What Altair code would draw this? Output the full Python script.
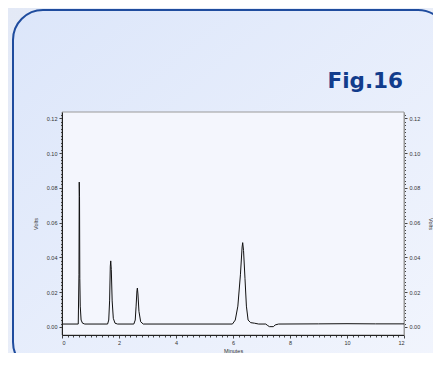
import altair as alt
import pandas as pd

# ---- data ----
times = [0.0, 0.57, 0.595, 0.605, 0.615, 0.625, 0.64, 0.67, 0.72, 0.80,
         1.60, 1.64, 1.67, 1.695, 1.71, 1.73, 1.76, 1.80, 1.86, 1.95,
         2.52, 2.57, 2.60, 2.63, 2.645, 2.665, 2.70, 2.76, 2.85,
         5.98, 6.08, 6.17, 6.26, 6.32, 6.34, 6.37, 6.42, 6.47, 6.53, 6.62, 6.75, 6.90,
         7.15, 7.22, 7.28, 7.42, 7.48, 7.60, 9.0, 10.0, 11.0, 12.0]
volts = [0.0017, 0.0017, 0.030, 0.0833, 0.075, 0.028, 0.012, 0.004, 0.0022, 0.0017,
         0.0017, 0.004, 0.015, 0.035, 0.038, 0.033, 0.015, 0.005, 0.0022, 0.0017,
         0.0017, 0.004, 0.012, 0.021, 0.0224, 0.019, 0.009, 0.003, 0.0017,
         0.0017, 0.004, 0.012, 0.030, 0.046, 0.0485, 0.044, 0.028, 0.012, 0.004, 0.0025, 0.0022, 0.0017,
         0.0017, 0.0008, 0.0002, 0.0002, 0.0012, 0.0017, 0.0018, 0.0019, 0.0018, 0.0018]

x_ticks = [round(i * 0.2, 1) for i in range(61)]
y_ticks = [round(i * 0.002, 3) for i in range(62)]

fig_title = "Fig.16"
x_title = "Minutes"
y_title = "Volts"

df = pd.DataFrame({"t": times, "v": volts})

W, H = 342, 223
PL, PT, PR, PB = 54, 104, 29, 18
one = alt.Data(values=[{"k": 1}])
FONT = "Liberation Sans"

x_major = "abs(datum.value % 2) < 0.001 || abs(datum.value % 2 - 2) < 0.001"
y_major = "abs(datum.value * 50 - round(datum.value * 50)) < 0.001"

xscale = alt.Scale(domain=[0, 12], nice=False, zero=False)
yscale = alt.Scale(domain=[-0.0046, 0.1236], nice=False, zero=False)

bg = alt.Chart(one).mark_rect(
    fill=alt.LinearGradient(gradient="linear", x1=0, y1=0, x2=1, y2=1,
                            stops=[alt.GradientStop(color="#e3e9f6", offset=0),
                                   alt.GradientStop(color="#eef2fb", offset=1)])
).encode(x=alt.value(-PL), x2=alt.value(W + PR), y=alt.value(-PT), y2=alt.value(H + PB))

panel = alt.Chart(one).mark_rect(
    cornerRadius=30, stroke="#1f4c9e", strokeWidth=2,
    fill=alt.LinearGradient(gradient="linear", x1=0, y1=0, x2=1, y2=1,
                            stops=[alt.GradientStop(color="#dce6fa", offset=0),
                                   alt.GradientStop(color="#f2f5fd", offset=1)])
).encode(x=alt.value(13 - 8 - PL), x2=alt.value(448 - 8 - PL),
         y=alt.value(10 - 8 - PT), y2=alt.value(372 - 8 - PT))

plotbg = alt.Chart(one).mark_rect(fill="#f4f6fd", stroke="#9a9a9a", strokeWidth=1).encode(
    x=alt.value(0), x2=alt.value(W), y=alt.value(0), y2=alt.value(H))

title = alt.Chart(one).mark_text(
    text=fig_title, font="DejaVu Sans", fontSize=21.5, fontWeight="bold", color="#123c8c",
    align="right", baseline="alphabetic"
).encode(x=alt.value(403 - 8 - PL), y=alt.value(88 - 8 - PT))

common = dict(labelFont=FONT, labelFontSize=5.5, labelColor="#333", titleFont=FONT,
              titleFontSize=5.5, titleFontWeight="normal", titleColor="#333",
              tickColor="#444", grid=False, zindex=1, labelOverlap=False)

line = alt.Chart(df).mark_line(color="#111", strokeWidth=1).encode(
    x=alt.X("t:Q", scale=xscale, title=x_title,
            axis=alt.Axis(values=x_ticks, labelExpr="(" + x_major + ") ? format(datum.value, 'd') : ''",
                          tickSize={"condition": {"test": x_major, "value": 3}, "value": 2},
                          domainColor="#222", labelPadding=2, titlePadding=3, **common)),
    y=alt.Y("v:Q", scale=yscale, title=y_title,
            axis=alt.Axis(orient="left", values=y_ticks,
                          labelExpr="(" + y_major + ") ? format(datum.value, '.2f') : ''",
                          tickSize={"condition": {"test": y_major, "value": 3}, "value": 1.5},
                          domainColor="#222", labelPadding=2, titlePadding=8, **common)),
)

right = alt.Chart(df).mark_point(opacity=0).encode(
    y=alt.Y("v:Q", scale=yscale, title=y_title,
            axis=alt.Axis(orient="right", values=y_ticks,
                          labelExpr="(" + y_major + ") ? format(datum.value, '.2f') : ''",
                          tickSize={"condition": {"test": y_major, "value": 3}, "value": 1.5},
                          domainColor="#9a9a9a", labelPadding=2, titlePadding=8, **common)),
)

chart = alt.layer(bg, panel, plotbg, title, line, right).resolve_scale(
    y="independent"
).properties(
    width=W, height=H,
    autosize=alt.AutoSizeParams(type="none"),
    padding={"left": PL, "top": PT, "right": PR, "bottom": PB},
).configure_view(stroke=None)

chart.save("out.html", embed_options={"renderer": "svg", "actions": False})
